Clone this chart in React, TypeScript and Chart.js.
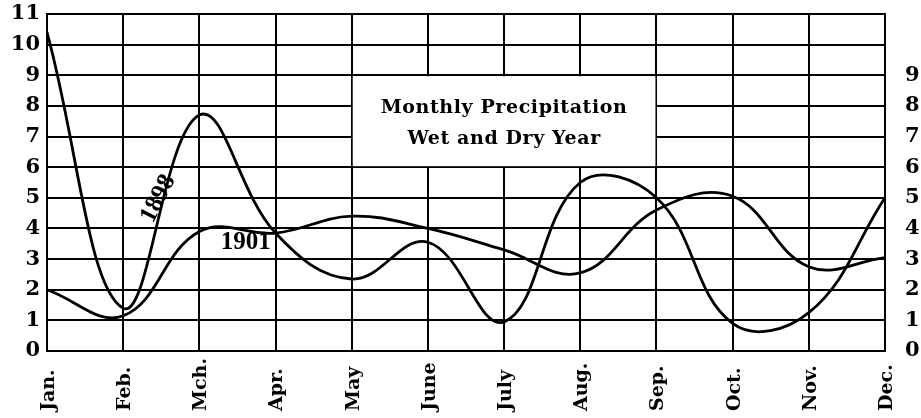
import React, { useEffect, useRef } from 'react';
import { Chart, registerables } from 'chart.js';

Chart.register(...registerables);

// ---- data ----
const months = ['Jan.', 'Feb.', 'Mch.', 'Apr.', 'May', 'June', 'July', 'Aug.', 'Sep.', 'Oct.', 'Nov.', 'Dec.'];
const wet1898 = [10.4, 1.4, 7.7, 3.85, 2.35, 3.55, 0.95, 5.5, 5.0, 0.9, 1.25, 5.0];
const dry1901 = [2.0, 1.15, 3.9, 3.85, 4.4, 4.0, 3.3, 2.55, 4.6, 5.05, 2.75, 3.05];
const leftTicks = [0, 1, 2, 3, 4, 5, 6, 7, 8, 9, 10, 11];
const rightTicks = [0, 1, 2, 3, 4, 5, 6, 7, 8, 9];
const titleLines = ['Monthly Precipitation', 'Wet and Dry Year'];
const seriesNames = ['1898', '1901'];

// ---- annotation placement (styling, not data) ----
const titleBox = { fromIndex: 4, toIndex: 8, top: 9, bottom: 6 };
const seriesLabelPos = [
  { index: 1.46, value: 4.97, angle: -63 },
  { index: 2.61, value: 3.55, angle: 0 },
];

const SERIF = '"DejaVu Serif", serif';

const decorPlugin = {
  id: 'decor',
  beforeDatasetsDraw(chart: any) {
    const { ctx } = chart;
    const x = chart.scales.x;
    const y = chart.scales.y;
    const l = x.getPixelForValue(titleBox.fromIndex);
    const r = x.getPixelForValue(titleBox.toIndex);
    const t = y.getPixelForValue(titleBox.top);
    const b = y.getPixelForValue(titleBox.bottom);
    ctx.save();
    ctx.fillStyle = '#ffffff';
    ctx.fillRect(l + 1, t + 1, r - l - 2, b - t - 2);
    ctx.restore();
  },
  afterDraw(chart: any) {
    const { ctx } = chart;
    const x = chart.scales.x;
    const y = chart.scales.y;
    ctx.save();
    // title
    const l = x.getPixelForValue(titleBox.fromIndex);
    const r = x.getPixelForValue(titleBox.toIndex);
    const t = y.getPixelForValue(titleBox.top);
    const b = y.getPixelForValue(titleBox.bottom);
    ctx.fillStyle = '#000';
    ctx.font = `bold 19px ${SERIF}`;
    try { (ctx as any).letterSpacing = '0.6px'; } catch (e) {}
    ctx.textAlign = 'center';
    ctx.textBaseline = 'middle';
    const cx = (l + r) / 2;
    ctx.fillText(titleLines[0], cx, t + (b - t) * 0.36);
    ctx.fillText(titleLines[1], cx, t + (b - t) * 0.69);
    try { (ctx as any).letterSpacing = '0px'; } catch (e) {}

    // series labels
    ctx.font = 'bold 25px "Liberation Serif", serif';
    seriesNames.forEach((name, i) => {
      const p = seriesLabelPos[i];
      const px = x.getPixelForValue(p.index);
      const py = y.getPixelForValue(p.value);
      ctx.save();
      ctx.translate(px, py);
      ctx.rotate((p.angle * Math.PI) / 180);
      ctx.textAlign = 'center';
      ctx.textBaseline = 'middle';
      ctx.fillText(name, 0, 0);
      ctx.restore();
    });

    // month labels (rotated, bottom aligned)
    ctx.font = `bold 19px ${SERIF}`;
    ctx.textAlign = 'left';
    ctx.textBaseline = 'middle';
    months.forEach((m, i) => {
      const px = x.getPixelForTick(i);
      ctx.save();
      ctx.translate(px + 2, chart.height - 7);
      ctx.rotate(-Math.PI / 2);
      ctx.fillText(m, 0, 0);
      ctx.restore();
    });
    ctx.restore();
  },
};

export default function App() {
  const ref = useRef<HTMLCanvasElement | null>(null);

  useEffect(() => {
    document.body.style.margin = '0';
    document.body.style.overflow = 'hidden';
    const canvas = ref.current;
    if (!canvas) return;
    const lineStyle = {
      borderColor: '#000',
      borderWidth: 2.8,
      pointRadius: 0,
      pointHoverRadius: 0,
      fill: false,
      tension: 0.4,
    };
    const noPad = (s: any) => {
      s.paddingTop = 0;
      s.paddingBottom = 0;
      s.paddingLeft = 0;
      s.paddingRight = 0;
    };
    const chart = new Chart(canvas, {
      type: 'line',
      data: {
        labels: months,
        datasets: [
          { label: seriesNames[0], data: wet1898, ...lineStyle },
          { label: seriesNames[1], data: dry1901, ...lineStyle },
        ],
      },
      options: {
        animation: false,
        responsive: false,
        events: [],
        layout: { padding: { top: 14, left: 0, right: 0, bottom: 0 } },
        plugins: {
          legend: { display: false },
          tooltip: { enabled: false },
          title: { display: false },
        },
        scales: {
          x: {
            type: 'category',
            offset: false,
            grid: { color: '#000', lineWidth: 2, drawTicks: false, offset: false },
            border: { display: true, color: '#000', width: 2 },
            ticks: { display: false },
            afterFit: (s: any) => {
              s.height = 67;
              noPad(s);
            },
          },
          y: {
            position: 'left',
            min: 0,
            max: 11,
            grid: { color: '#000', lineWidth: 2, drawTicks: false },
            border: { display: true, color: '#000', width: 2 },
            afterBuildTicks: (s: any) => {
              s.ticks = leftTicks.map((v) => ({ value: v }));
            },
            ticks: {
              color: '#000',
              padding: 7,
              font: { family: SERIF, size: 21, weight: 'bold' },
              callback: (v: any) => String(v),
            },
            afterFit: (s: any) => {
              s.width = 47;
              noPad(s);
            },
          },
          y2: {
            position: 'right',
            min: 0,
            max: 11,
            grid: { display: false, drawTicks: false },
            border: { display: true, color: '#000', width: 2 },
            afterBuildTicks: (s: any) => {
              s.ticks = rightTicks.map((v) => ({ value: v }));
            },
            ticks: {
              color: '#000',
              padding: 20,
              font: { family: SERIF, size: 21, weight: 'bold' },
              callback: (v: any) => String(v),
            },
            afterFit: (s: any) => {
              s.width = 36;
              noPad(s);
            },
          },
        },
      } as any,
      plugins: [decorPlugin],
    });
    return () => chart.destroy();
  }, []);

  return (
    <div style={{ width: 921, height: 418 }}>
      <canvas ref={ref} width={921} height={418} style={{ display: 'block', width: 921, height: 418 }} />
    </div>
  );
}
